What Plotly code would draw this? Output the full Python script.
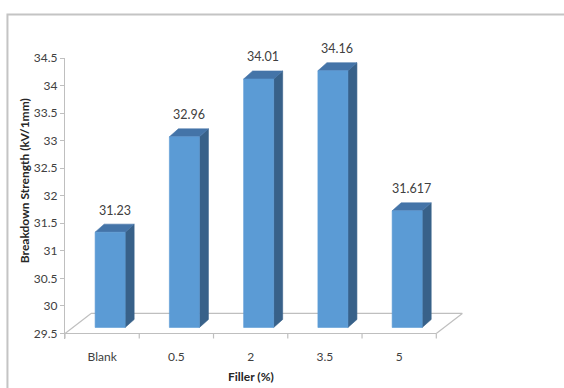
import plotly.graph_objects as go

# Data
categories = ["Blank", "0.5", "2", "3.5", "5"]
strength = [31.23, 32.96, 34.01, 34.16, 31.617]
value_labels = ["31.23", "32.96", "34.01", "34.16", "31.617"]
y_ticks = [29.5, 30, 30.5, 31, 31.5, 32, 32.5, 33, 33.5, 34, 34.5]

# Geometry (pixels) of the pseudo-3D drawing
W, H = 564, 388
L, R, T = 65, 98.3, 58
X_RANGE = [-0.5, 4.9]
Y_RANGE = [29.4, 34.5]
FLOOR = 29.5
PX_X = (W - L - R) / (X_RANGE[1] - X_RANGE[0])   # px per category unit
PX_Y = 55.0                                      # px per kV/mm
B = H - T - PX_Y * (Y_RANGE[1] - Y_RANGE[0])

def ux(px):
    return px / PX_X

def uy(px):
    return px / PX_Y

FLOOR_DX, FLOOR_DY = ux(26), uy(20)      # floor depth
FRONT_DX, FRONT_DY = ux(8), uy(6)        # bar front plane offset
BAR_DX, BAR_DY = ux(9), uy(8)            # bar depth
BAR_W = ux(30)

FRONT_COL = "#5b9bd5"
TOP_COL = "#4474a8"
SIDE_COL = "#386189"
GRID_COL = "#bfbfbf"
TXT_COL = "#404040"
FONT = "Lato"

fig = go.Figure()

def poly(xs, ys, color):
    fig.add_trace(go.Scatter(
        x=xs + [xs[0]], y=ys + [ys[0]], mode="lines", fill="toself",
        fillcolor=color, line=dict(width=0.6, color=color),
        hoverinfo="skip", showlegend=False))

for i, v in enumerate(strength):
    xl = i - BAR_W / 2 + FRONT_DX
    xr = i + BAR_W / 2 + FRONT_DX
    yb = FLOOR + FRONT_DY
    yt = v + FRONT_DY
    # right side face
    poly([xr, xr + BAR_DX, xr + BAR_DX, xr],
         [yb, yb + BAR_DY, yt + BAR_DY, yt], SIDE_COL)
    # top face
    poly([xl, xl + BAR_DX, xr + BAR_DX, xr],
         [yt, yt + BAR_DY, yt + BAR_DY, yt], TOP_COL)
    # front face
    poly([xl, xr, xr, xl], [yb, yb, yt, yt], FRONT_COL)

# value labels above each bar (anchored at the back edge of the top face)
for i, (v, lab) in enumerate(zip(strength, value_labels)):
    fig.add_annotation(
        x=i + FRONT_DX + BAR_DX / 2, y=v + FRONT_DY + BAR_DY, yshift=14,
        text=lab, showarrow=False, xanchor="center", yanchor="middle",
        font=dict(family=FONT, size=12.5, color=TXT_COL))

# floor parallelogram
x0, x1 = -0.5, len(categories) - 0.5
shapes = [
    dict(type="line", x0=x0, y0=FLOOR, x1=x1, y1=FLOOR),
    dict(type="line", x0=x0, y0=FLOOR, x1=x0 + FLOOR_DX, y1=FLOOR + FLOOR_DY),
    dict(type="line", x0=x0 + FLOOR_DX, y0=FLOOR + FLOOR_DY,
         x1=x1 + FLOOR_DX, y1=FLOOR + FLOOR_DY),
    dict(type="line", x0=x1, y0=FLOOR, x1=x1 + FLOOR_DX, y1=FLOOR + FLOOR_DY),
]
# category divider ticks
for k in range(len(categories) + 1):
    shapes.append(dict(type="line", x0=k - 0.5, y0=FLOOR, x1=k - 0.5,
                       y1=FLOOR - uy(5)))
for s in shapes:
    s.update(xref="x", yref="y", layer="below",
             line=dict(color=GRID_COL, width=1.2))

# outer chart border
def px_to_paper_x(px):
    return (px - L) / (W - L - R)

def px_to_paper_y(py):
    return (H - B - py) / (H - T - B)

shapes.append(dict(type="rect", xref="paper", yref="paper",
                   x0=px_to_paper_x(7.5), x1=px_to_paper_x(W + 10),
                   y0=px_to_paper_y(H + 10), y1=px_to_paper_y(14.5),
                   line=dict(color="#c4c4c4", width=2), layer="below"))

fig.update_layout(
    width=W, height=H,
    margin=dict(l=L, r=R, t=T, b=B, pad=0),
    paper_bgcolor="white", plot_bgcolor="white",
    showlegend=False, shapes=shapes,
    font=dict(family=FONT, size=12, color=TXT_COL),
    xaxis=dict(range=X_RANGE, tickmode="array",
               tickvals=list(range(len(categories))), ticktext=categories,
               showgrid=False, zeroline=False, showline=False,
               ticks="outside", ticklen=7, tickcolor="rgba(0,0,0,0)",
               tickfont=dict(family=FONT, size=12, color=TXT_COL)),
    yaxis=dict(range=Y_RANGE, tickmode="array", tickvals=y_ticks,
               ticktext=[f"{t:g}" for t in y_ticks],
               showgrid=False, zeroline=False, showline=True,
               linecolor=GRID_COL, linewidth=1.2,
               ticks="outside", ticklen=4, tickcolor=GRID_COL,
               tickfont=dict(family=FONT, size=12, color=TXT_COL)),
)

fig.add_annotation(
    xref="paper", yref="paper", x=px_to_paper_x(24), y=px_to_paper_y(180),
    text="<b>Breakdown Strength (kV/1mm)</b>", textangle=-90,
    showarrow=False, xanchor="center", yanchor="middle",
    font=dict(family=FONT, size=12, color="#262626"))
fig.add_annotation(
    xref="paper", yref="paper", x=px_to_paper_x(250.5), y=px_to_paper_y(376),
    text="<b>Filler (%)</b>", showarrow=False,
    xanchor="center", yanchor="middle",
    font=dict(family=FONT, size=12, color="#262626"))

fig.write_html("out.html")
